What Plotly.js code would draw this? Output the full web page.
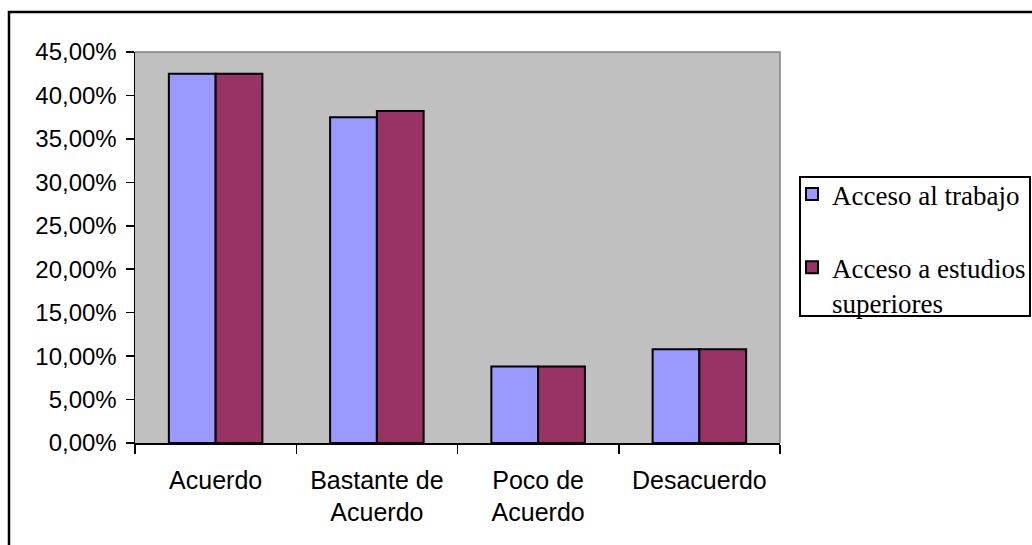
<!DOCTYPE html>
<html>
<head>
<meta charset="utf-8">
<script src="https://cdn.plot.ly/plotly-3.0.1.min.js"></script>
<style>html,body{margin:0;padding:0;background:#fff;}#chart{width:1032px;height:545px;}</style>
</head>
<body>
<div id="chart"></div>
<script>
var categories = ["Acuerdo", "Bastante de<br>Acuerdo", "Poco de<br>Acuerdo", "Desacuerdo"];
var seriesNames = ["Acceso al trabajo", "Acceso a estudios<br>superiores"];
var accesoTrabajo = [0.425, 0.375, 0.088, 0.108];
var accesoEstudios = [0.425, 0.382, 0.088, 0.108];
var yTickValues = [0, 0.05, 0.10, 0.15, 0.20, 0.25, 0.30, 0.35, 0.40, 0.45];

var W = 1032, H = 545;
var L = 135, R = 780, T = 52, B = 443;
function px(x){ return (x - L) / (R - L); }
function py(y){ return (B - y) / (B - T); }

var traces = [
  {type: 'bar', x: categories, y: accesoTrabajo, name: seriesNames[0], legendgroup: 'a',
   marker: {color: '#9999FF', line: {color: '#000000', width: 2}}, hoverinfo: 'y'},
  {type: 'bar', x: categories, y: accesoEstudios, name: seriesNames[1], legendgroup: 'b',
   marker: {color: '#993366', line: {color: '#000000', width: 2}}, hoverinfo: 'y'}
];

var layout = {
  width: W, height: H,
  margin: {l: L, r: W - R, t: T, b: H - B, autoexpand: false},
  paper_bgcolor: '#FFFFFF',
  plot_bgcolor: '#C0C0C0',
  separators: ',.',
  barmode: 'group',
  bargap: 0.42,
  bargroupgap: 0,
  showlegend: true,
  legend: {
    x: px(792), y: py(170), xanchor: 'left', yanchor: 'top',
    bgcolor: 'rgba(0,0,0,0)', borderwidth: 0,
    font: {family: '"Liberation Serif", "Times New Roman", serif', size: 27, color: '#000'},
    tracegroupgap: 35, traceorder: 'grouped', valign: 'top', itemwidth: 30
  },
  xaxis: {
    type: 'category',
    showline: true, linecolor: '#000', linewidth: 1.5,
    ticks: 'outside', ticklen: 9, tickwidth: 1.5, tickcolor: '#000',
    tickson: 'boundaries',
    showgrid: false, zeroline: false,
    ticklabelstandoff: 14,
    tickfont: {family: '"Liberation Sans", Arial, sans-serif', size: 25, color: '#000'}
  },
  yaxis: {
    range: [0, 0.45], tickvals: yTickValues, tickformat: '.2%',
    showline: true, linecolor: '#000', linewidth: 1.5,
    ticks: 'outside', ticklen: 8, tickwidth: 1.5, tickcolor: '#000',
    showgrid: false, zeroline: false,
    ticklabelstandoff: 4,
    tickfont: {family: '"Liberation Sans", Arial, sans-serif', size: 24, color: '#000'}
  },
  shapes: [
    {type: 'path', xref: 'paper', yref: 'paper', path: 'M0,1 L1,1 L1,0', line: {color: '#808080', width: 1.5}, layer: 'above'},
    {type: 'rect', xref: 'paper', yref: 'paper', x0: px(9), x1: px(1045), y0: py(600), y1: py(12), line: {color: '#000', width: 2.5}, fillcolor: 'rgba(0,0,0,0)', layer: 'above'},
    {type: 'rect', xref: 'paper', yref: 'paper', x0: px(800), x1: px(1030), y0: py(316), y1: py(177), line: {color: '#000', width: 2}, fillcolor: 'rgba(0,0,0,0)', layer: 'above'}
  ]
};

Plotly.newPlot('chart', traces, layout, {displayModeBar: false, staticPlot: true});
</script>
</body>
</html>
